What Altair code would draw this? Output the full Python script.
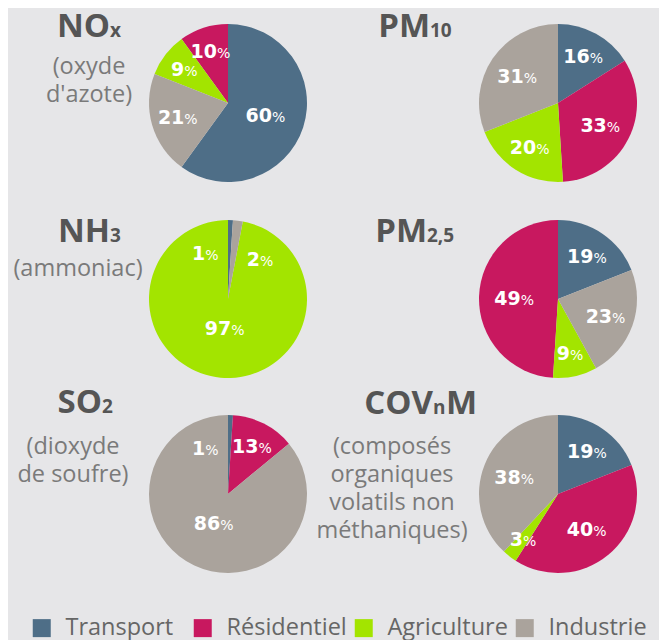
import altair as alt
import pandas as pd

# ---------------- data ----------------
pollutants = ["NOx", "PM10", "NH3", "PM2,5", "SO2", "COVnM"]
sectors = ["Transport", "Résidentiel", "Agriculture", "Industrie"]
colors = ["#4e6e87", "#c8185f", "#a3e400", "#aaa39c"]

# share (%) of each sector, in sector order
shares = {
    "NOx":   [60, 10, 9, 21],
    "PM10":  [16, 33, 20, 31],
    "NH3":   [1, 0, 97, 2],
    "PM2,5": [19, 49, 9, 23],
    "SO2":   [1, 13, 0, 86],
    "COVnM": [19, 40, 3, 38],
}
# clockwise rank of each sector's slice from 12 o'clock
slice_rank = {
    "NOx":   [1, 4, 3, 2],
    "PM10":  [1, 2, 3, 4],
    "NH3":   [1, 4, 3, 2],
    "PM2,5": [1, 4, 3, 2],
    "SO2":   [1, 2, 4, 3],
    "COVnM": [1, 2, 3, 4],
}
title_main = {"NOx": "NO", "PM10": "PM", "NH3": "NH", "PM2,5": "PM", "SO2": "SO", "COVnM": "COV"}
title_sub = {"NOx": "x", "PM10": "10", "NH3": "3", "PM2,5": "2,5", "SO2": "2", "COVnM": "n"}
title_tail = {"COVnM": "M"}
subtitles = {
    "NOx": ["(oxyde", "d'azote)"],
    "NH3": ["(ammoniac)"],
    "SO2": ["(dioxyde", "de soufre)"],
    "COVnM": ["(composés", "organiques", "volatils non", "méthaniques)"],
}

# ---------------- layout (pixels) ----------------
R = 79
centers = {"NOx": (220, 95), "PM10": (550, 95), "NH3": (220, 291),
           "PM2,5": (550, 291), "SO2": (220, 486), "COVnM": (550, 486)}
title_anchor = {"NOx": (102, 29), "PM10": (422, 29), "NH3": (102, 234),
                "PM2,5": (419, 234), "SO2": (94, 405), "COVnM": (425, 406)}
tail_anchor = {"COVnM": (438, 406)}
sub_anchor = {"NOx": (81, 66), "NH3": (70, 268), "SO2": (65, 446), "COVnM": (384, 446)}
LINE = 28

rows = []
for p in pollutants:
    for s, v, r in zip(sectors, shares[p], slice_rank[p]):
        rows.append({"pollutant": p, "sector": s, "value": v, "rank": r})
df = pd.DataFrame(rows)

color_scale = alt.Scale(domain=sectors, range=colors)
legend = alt.Legend(orient="none", legendX=22, legendY=608, direction="horizontal",
                    columns=4, gridAlign="all", symbolType="square", symbolSize=324,
                    labelFontSize=23.5, labelFont="Open Sans", labelColor="#666666",
                    labelOffset=12, columnPadding=5, symbolStrokeWidth=0,
                    labelLimit=300, title=None)
theta_scale = alt.Scale(domain=[0, 100])

layers = []
base = alt.Chart(df)
for p in pollutants:
    cx, cy = centers[p]
    b = base.transform_filter(alt.datum.pollutant == p).transform_filter(alt.datum.value > 0)
    layers.append(
        b.mark_arc(outerRadius=R).encode(
            theta=alt.Theta("value:Q", stack=True, scale=theta_scale),
            color=alt.Color("sector:N", scale=color_scale, legend=legend),
            order=alt.Order("rank:Q"),
            x=alt.value(cx), y=alt.value(cy),
        )
    )
    lab = (b.transform_window(cum="sum(value)", sort=[alt.SortField("rank")], frame=[None, 0])
            .transform_calculate(mid="datum.cum - datum.value / 2")
            .transform_calculate(
                ang="datum.value < 1.5 ? 92.6 : (datum.value < 2.5 ? 10.8 : datum.mid)",
                rad="datum.value < 2.5 ? 51 : 58 - 0.3 * datum.value",
                num="format(datum.value, 'd')"))
    enc = dict(theta=alt.Theta("ang:Q", stack=False, scale=theta_scale),
               radius=alt.Radius("rad:Q", scale=alt.Scale(type="linear", domain=[0, R], range=[0, R])),
               x=alt.value(cx), y=alt.value(cy))
    for cond, dxv in (("datum.value >= 10", 6), ("datum.value < 10", 0)):
        sub = lab.transform_filter(cond)
        layers.append(sub.mark_text(align="right", baseline="alphabetic", dx=dxv, dy=7,
                                    font="DejaVu Sans", fontWeight="bold", fontSize=19,
                                    color="white").encode(text="num:N", **enc))
        layers.append(sub.mark_text(align="left", baseline="alphabetic", dx=dxv, dy=7,
                                    font="DejaVu Sans", fontSize=14,
                                    color="white").encode(text=alt.value("%"), **enc))

# titles
tm = pd.DataFrame([{"x": title_anchor[p][0], "y": title_anchor[p][1], "t": title_main[p]} for p in pollutants])
ts = pd.DataFrame([{"x": title_anchor[p][0], "y": title_anchor[p][1], "t": title_sub[p]} for p in pollutants])
tt = pd.DataFrame([{"x": tail_anchor[p][0], "y": tail_anchor[p][1], "t": title_tail[p]} for p in title_tail])
st = pd.DataFrame([{"x": sub_anchor[p][0], "y": sub_anchor[p][1] + i * LINE, "t": line}
                   for p in subtitles for i, line in enumerate(subtitles[p])])

txt_enc = dict(x=alt.X("x:Q", scale=None), y=alt.Y("y:Q", scale=None), text="t:N")
layers.append(alt.Chart(tm).mark_text(align="right", baseline="alphabetic", font="Open Sans",
                                      fontWeight="bold", fontSize=33, color="#555555").encode(**txt_enc))
layers.append(alt.Chart(ts).mark_text(align="left", baseline="alphabetic", font="Open Sans",
                                      fontWeight="bold", fontSize=19, color="#555555").encode(**txt_enc))
layers.append(alt.Chart(tt).mark_text(align="left", baseline="alphabetic", font="Open Sans",
                                      fontWeight="bold", fontSize=33, color="#555555").encode(**txt_enc))
layers.append(alt.Chart(st).mark_text(align="center", baseline="alphabetic", font="Open Sans",
                                      fontSize=23.5, color="#7a7a7a").encode(**txt_enc))

chart = (alt.layer(*layers)
         .properties(width=651, height=632, padding=0, autosize="none", background="#e6e6e8")
         .configure_view(stroke=None))

chart.save("out.html", embed_options={"renderer": "svg", "actions": False})
